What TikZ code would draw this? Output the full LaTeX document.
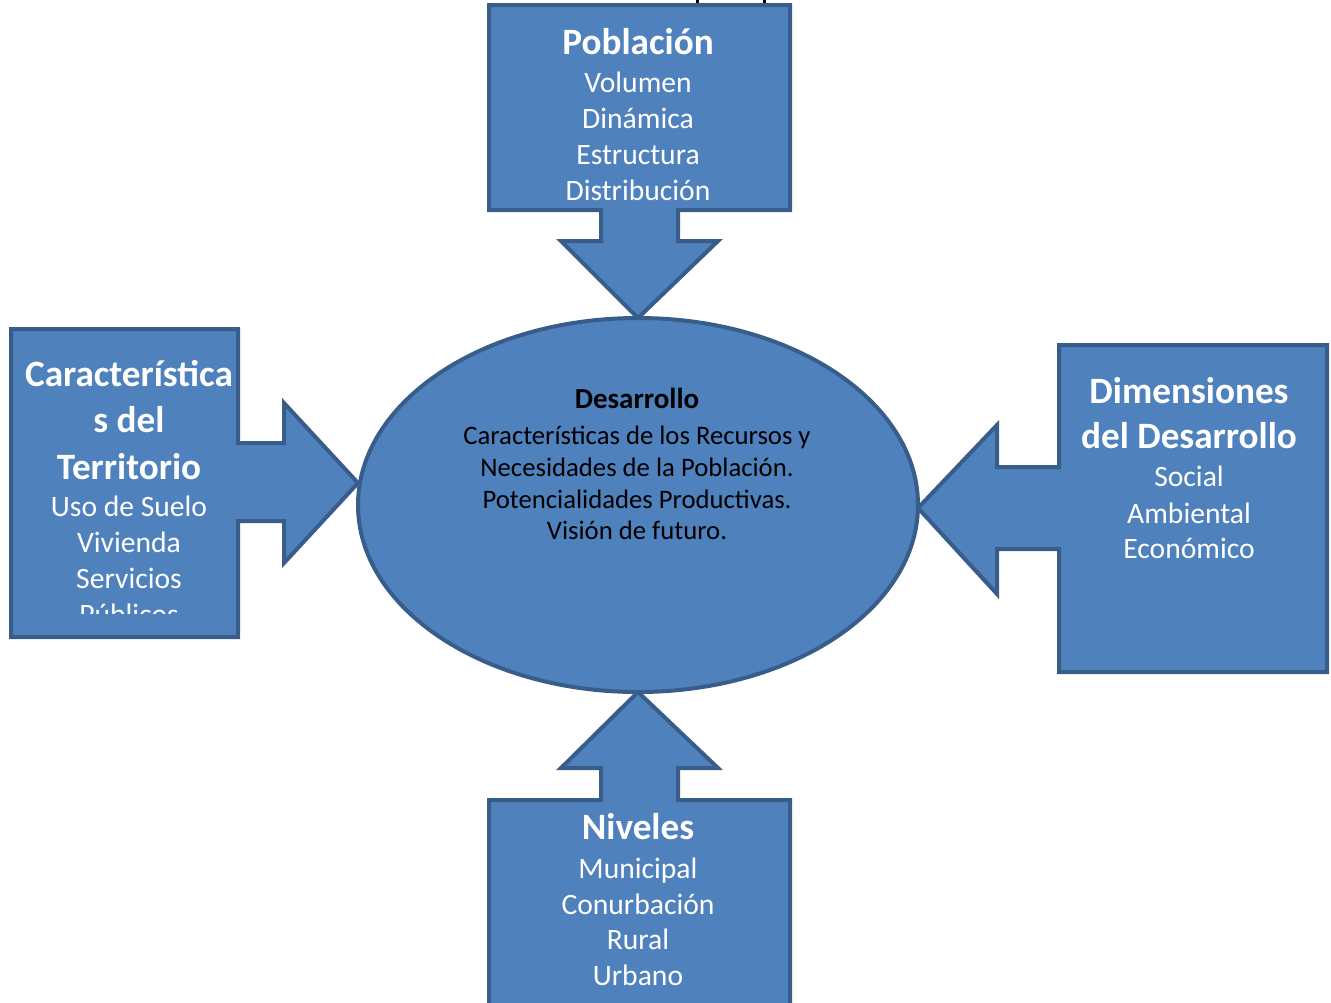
\documentclass[tikz,border=0pt]{standalone}
\usepackage{fontspec}
\setmainfont{Carlito}
\definecolor{boxfill}{HTML}{4F81BD}
\definecolor{boxline}{HTML}{385D8A}
\begin{document}
\begin{tikzpicture}[x=0.5pt,y=-0.5pt,
  shapebox/.style={fill=boxfill,draw=boxline,line width=2pt,line join=miter},
  ttl/.style={anchor=base,text=white,font=\fontsize{18.6}{22}\selectfont\bfseries,inner sep=0pt},
  itm/.style={anchor=base,text=white,font=\fontsize{14.8}{18}\selectfont,inner sep=0pt},
  ctr/.style={anchor=base,text=black,font=\fontsize{13.35}{16}\selectfont,inner sep=0pt}]
\useasboundingbox (0,0) rectangle (1331,1002);
% tiny fragments of cut-off text at the top
\fill[black] (696,0) rectangle (699,4);
\fill[black] (763,0) rectangle (766,4);
% top callout
\draw[shapebox] (489,5) -- (790,5) -- (790,210) -- (678,210) -- (678,241) -- (718,241) -- (638,318) -- (561,241) -- (601,241) -- (601,210) -- (489,210) -- cycle;
% left callout
\draw[shapebox] (11,329) -- (238,329) -- (238,443) -- (284,443) -- (284,403) -- (358,483) -- (284,563) -- (284,521) -- (238,521) -- (238,637) -- (11,637) -- cycle;
% right callout
\draw[shapebox] (1059,345) -- (1327,345) -- (1327,672) -- (1059,672) -- (1059,549) -- (997,549) -- (997,594) -- (918,508) -- (997,425) -- (997,467) -- (1059,467) -- cycle;
% bottom callout
\draw[shapebox] (489,800) -- (601,800) -- (601,768) -- (561,768) -- (638,692) -- (718,768) -- (678,768) -- (678,800) -- (790,800) -- (790,1012) -- (489,1012) -- cycle;
% central ellipse
\draw[shapebox] (638,505) ellipse [x radius=280, y radius=187];
% top text
\node[ttl] (p0) at (638,54) {Población};
\node[itm] (p1) at (638,92) {Volumen};
\node[itm] (p2) at (638,128) {Dinámica};
\node[itm] (p3) at (638,164) {Estructura};
\node[itm] (p4) at (638,200) {Distribución};
% left text (clipped)
\begin{scope}
\clip (13,331) rectangle (236,613);
\node[ttl] (t0) at (129,386) {Característica};
\node[ttl] (t1) at (129,432) {s del};
\node[ttl] (t2) at (129,479) {Territorio};
\node[itm] (t3) at (129,516) {Uso de Suelo};
\node[itm] (t4) at (129,552) {Vivienda};
\node[itm] (t5) at (129,588) {Servicios};
\node[itm] (t6) at (129,624) {Públicos};
\end{scope}
% right text
\node[ttl] (d0) at (1189,403) {Dimensiones};
\node[ttl] (d1) at (1189,448) {del Desarrollo};
\node[itm] (d2) at (1189,486) {Social};
\node[itm] (d3) at (1189,523) {Ambiental};
\node[itm] (d4) at (1189,558) {Económico};
% bottom text
\node[ttl] (n0) at (638,839) {Niveles};
\node[itm] (n1) at (638,878) {Municipal};
\node[itm] (n2) at (638,914) {Conurbación};
\node[itm] (n3) at (638,949) {Rural};
\node[itm] (n4) at (638,985) {Urbano};
% center text
\node[ctr,font=\fontsize{14.5}{17}\selectfont\bfseries] (c0) at (637,408) {Desarrollo};
\node[ctr] (c1) at (637,444) {Características de los Recursos y};
\node[ctr] (c2) at (637,476) {Necesidades de la Población.};
\node[ctr] (c3) at (637,508) {Potencialidades Productivas.};
\node[ctr] (c4) at (637,539) {Visión de futuro.};
\end{tikzpicture}
\end{document}
